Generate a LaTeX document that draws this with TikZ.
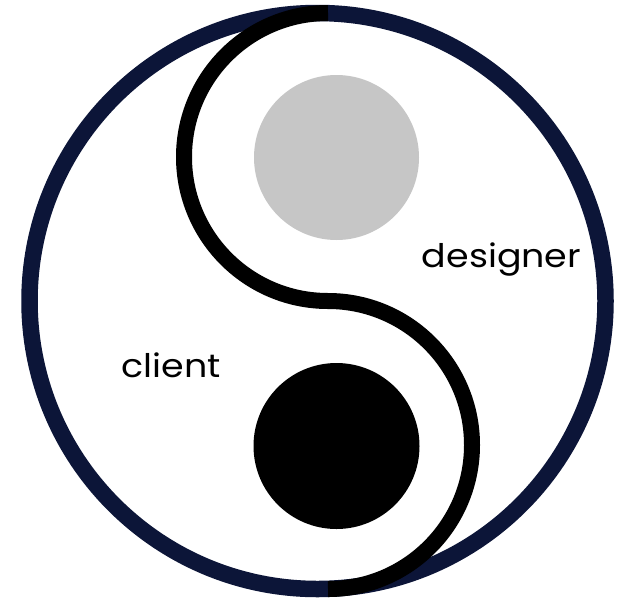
\documentclass[tikz,border=0pt]{standalone}
\usepackage{fontspec}
\setmainfont{Poppins}[FakeStretch=1.12]
\definecolor{navy}{RGB}{12,21,56}
\definecolor{lightgray}{RGB}{198,198,198}
\tikzset{
  ring/.style={draw=navy,line width=16.5pt},
  sline/.style={draw=black,line width=16pt},
  label/.style={anchor=base west,inner sep=0pt,font=\fontsize{32.5}{36}\selectfont}
}
\begin{document}
\begin{tikzpicture}[x=1pt,y=-1pt]
\useasboundingbox[fill=white] (0,0) rectangle (618,600);
% outer ring
\draw[ring] (317.5,301) circle[radius=288];
% S-curve
\draw[sline] (328,13) arc[start angle=270,end angle=90,radius=144]
                      arc[start angle=-90,end angle=90,radius=144];
% dots
\fill[lightgray] (336.5,157.5) circle[radius=82.5];
\fill[black] (336.5,446) circle[radius=83];
% labels
\node[label] (designer) at (421.7,267.5) {designer};
\node[label] (client) at (121.7,377) {client};
\end{tikzpicture}
\end{document}
